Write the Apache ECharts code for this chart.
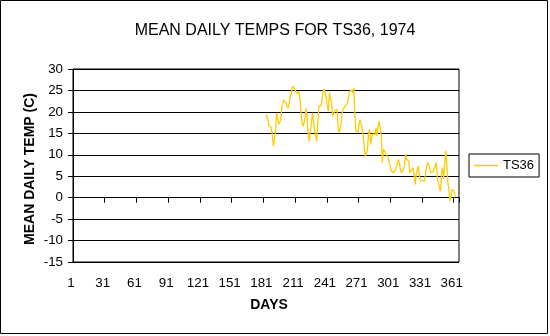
<!DOCTYPE html>
<html>
<head>
<meta charset="utf-8">
<script src="https://cdn.jsdelivr.net/npm/echarts@6/dist/echarts.min.js"></script>
<style>
html,body{margin:0;padding:0;background:#fff;}
#chart{width:550px;height:336px;}
</style>
</head>
<body>
<div id="chart"></div>
<script>
// ---- data ----
var chartTitle = 'MEAN DAILY TEMPS FOR TS36, 1974';
var xAxisTitle = 'DAYS';
var yAxisTitle = 'MEAN DAILY TEMP (C)';
var seriesName = 'TS36';
var dayCount = 365;
var firstDay = 183; // first day with a reading
var ts36 = [
  19.4, 19.4, 18.0, 16.7, 16.5, 16.3, 14.4, 12.0, 12.4, 15.5,
  19.8, 19.9, 17.1, 17.6, 18.2, 21.4, 22.1, 22.8, 22.8, 22.0,
  21.4, 20.9, 22.1, 23.7, 24.5, 26.0, 25.6, 25.3, 24.8, 24.5,
  24.2, 24.8, 23.5, 20.5, 17.5, 16.7, 17.5, 19.0, 20.9, 18.2,
  14.4, 13.2, 15.5, 17.5, 19.8, 17.9, 15.5, 14.4, 13.2, 17.5,
  21.4, 21.0, 21.4, 22.9, 24.8, 25.3, 24.0, 23.3, 21.4, 20.2,
  24.5, 23.0, 22.5, 19.0, 19.4, 20.2, 20.4, 20.6, 17.1, 15.2,
  16.0, 17.5, 19.8, 20.7, 20.9, 21.4, 21.4, 22.1, 23.3, 24.8,
  24.8, 25.0, 24.5, 25.6, 19.8, 15.6, 15.2, 15.2, 17.1, 18.2,
  17.1, 16.0, 14.4, 11.3, 9.7, 10.5, 11.3, 15.2, 15.9, 12.4,
  13.9, 14.9, 14.7, 14.7, 16.3, 14.4, 16.7, 17.9, 17.9, 14.4,
  8.2, 11.3, 10.9, 10.5, 10.0, 9.7, 8.9, 7.8, 6.6, 6.2,
  5.8, 5.4, 6.2, 7.0, 7.8, 8.9, 8.2, 6.6, 5.8, 6.2,
  6.6, 7.4, 10.1, 8.9, 8.5, 8.5, 5.8, 5.8, 6.5, 7.0,
  5.4, 3.1, 5.4, 6.5, 7.4, 5.4, 3.9, 3.9, 3.9, 3.9,
  3.9, 5.8, 7.4, 8.2, 7.5, 6.6, 5.8, 6.2, 6.0, 5.8,
  7.4, 8.2, 4.7, 3.5, 2.3, 1.5, 5.8, 7.0, 4.3, 7.8,
  10.9, 7.4, 3.5, 1.9, -0.8, 0.5, 1.9, 2.3, 1.5, 0.3
];
var yMin = -15, yMax = 30, yStep = 5;

// ---- build ----
var days = [];
var values = [];
for (var d = 1; d <= dayCount; d++) {
  days.push(String(d));
  var k = d - firstDay;
  values.push(k >= 0 && k < ts36.length ? ts36[k] : null);
}

var FONT = '"Liberation Sans", Arial, sans-serif';
var LINE_COLOR = '#FFCC00';
var chart = echarts.init(document.getElementById('chart'), null, {renderer: 'canvas'});
chart.setOption({
  animation: false,
  backgroundColor: '#ffffff',
  textStyle: {fontFamily: FONT, color: '#000'},
  title: {
    text: chartTitle,
    left: 'center',
    top: 18,
    textStyle: {fontFamily: FONT, fontSize: 16, fontWeight: 'normal', color: '#000'}
  },
  legend: {
    show: true,
    data: [{name: seriesName, icon: 'rect'}],
    left: 469,
    top: 154,
    orient: 'vertical',
    borderColor: '#000',
    borderWidth: 1,
    padding: [4, 5, 4, 5],
    itemWidth: 24,
    itemHeight: 1.5,
    itemGap: 0,
    itemStyle: {color: LINE_COLOR},
    textStyle: {fontFamily: FONT, fontSize: 13, color: '#000', lineHeight: 15}
  },
  grid: {left: 73, top: 69, right: 91, bottom: 74, show: true, borderColor: '#000', borderWidth: 1},
  xAxis: {
    type: 'category',
    data: days,
    boundaryGap: true,
    axisLine: {lineStyle: {color: '#000', width: 1}},
    axisTick: {show: true, interval: 29, length: 5, inside: false, lineStyle: {color: '#000'}},
    axisLabel: {interval: 29, margin: 15, padding: [0, 5, 0, 0], fontFamily: FONT, fontSize: 13.33, color: '#000'},
    splitLine: {show: false}
  },
  yAxis: {
    type: 'value',
    min: yMin,
    max: yMax,
    interval: yStep,
    axisLine: {show: true, lineStyle: {color: '#000', width: 1}},
    axisTick: {show: true, length: 5, lineStyle: {color: '#000'}},
    axisLabel: {margin: 10, fontFamily: FONT, fontSize: 13.33, color: '#000'},
    splitLine: {show: true, lineStyle: {color: '#000', width: 1}}
  },
  series: [{
    name: seriesName,
    type: 'line',
    data: values,
    symbol: 'none',
    showSymbol: false,
    connectNulls: false,
    lineStyle: {color: LINE_COLOR, width: 1.3},
    itemStyle: {color: LINE_COLOR}
  }],
  graphic: [{
    type: 'text',
    x: 30,
    y: 169,
    rotation: Math.PI / 2,
    style: {
      text: yAxisTitle,
      fontFamily: FONT, fontSize: 14, fontWeight: 'bold', fill: '#000',
      textAlign: 'center', textVerticalAlign: 'middle'
    },
    silent: true
  }, {
    type: 'text',
    x: 269,
    y: 305,
    style: {
      text: xAxisTitle,
      fontFamily: FONT, fontSize: 14, fontWeight: 'bold', fill: '#000',
      textAlign: 'center', textVerticalAlign: 'middle'
    },
    silent: true
  }, {
    type: 'rect',
    shape: {x: 0.5, y: 0.5, width: 547, height: 333},
    style: {fill: 'none', stroke: '#000', lineWidth: 1},
    silent: true,
    z: 100
  }]
});
</script>
</body>
</html>
